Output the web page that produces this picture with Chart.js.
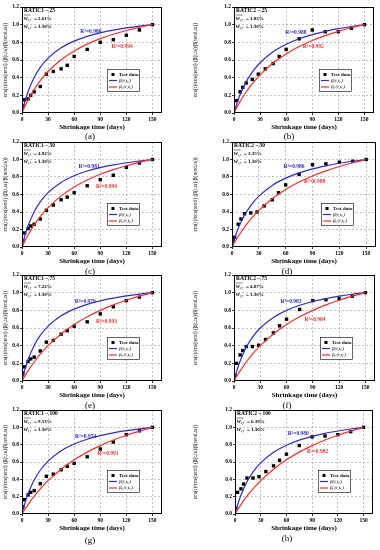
<!DOCTYPE html>
<html><head><meta charset="utf-8">
<script src="https://cdn.jsdelivr.net/npm/chart.js@4/dist/chart.umd.min.js"></script>
<style>
body{margin:0;background:#fff;width:380px;height:550px;position:relative;overflow:hidden}
canvas{position:absolute}
.lab{position:absolute;font:9px "Liberation Serif",serif;color:#000;transform:translate(-50%,-50%);white-space:nowrap}
</style></head><body>
<script>
// ---------------- data ----------------
const testTimes = [1,3,7,10,14,21,28,36,45,52,60,75,90,105,120,135,150];
const curveTimes = [0,3,7,14,21,30,45,60,75,90,105,120,135,150];
const xTickValues = [0,30,60,90,120,150];
const yTickValues = [0,0.2,0.4,0.6,0.8,1.0,1.2];
const panelLabels = ['(a)','(b)','(c)','(d)','(e)','(f)','(g)','(h)'];
const specimens = ['RATIC1 \u2013 25','RATIC2 \u2013 25','RATIC1 \u2013 50','RATIC2 \u2013 50','RATIC1 \u2013 75','RATIC2 \u2013 75','RATIC1 \u2013 100','RATIC2 \u2013 100'];
const wMean = ['2.61%','1.82%','4.92%','3.35%','7.22%','4.87%','9.53%','6.39%'];
const wRef = ['1.30%','1.30%','1.30%','1.30%','1.30%','1.30%','1.30%','1.30%'];
const r2Blue = ['0.980','0.988','0.981','0.986','0.979','0.983','0.974','0.980'];
const r2Red = ['0.994','0.992','0.994','0.988','0.993','0.984','0.991','0.982'];
const legendNames = ['Test data','\u03b2(t,t\u209b)','\u03b2\u209b(t,t\u209b)'];
const xTitle = 'Shrinkage time (days)';
const yTitle = '\u03b5cs(t)/\u03b5cs(tend) (\u03b2(t,ts)/\u03b2(tend,ts))';

const testA = [0.08,0.15,0.16,0.20,0.24,0.30,0.44,0.47,0.50,0.54,0.64,0.72,0.80,0.83,0.88,0.94,1.0];
const testB = [null,0.14,0.24,0.29,0.34,0.38,0.44,0.50,0.56,0.64,0.72,0.84,0.94,0.92,0.92,0.96,1.0];
const testC = [0.07,0.16,0.21,0.24,0.26,0.32,0.42,0.48,0.54,0.57,0.62,0.70,0.77,0.82,0.91,0.96,1.0];
const testD = [0.07,0.11,0.26,0.32,0.38,0.39,0.40,0.47,0.54,0.62,0.71,0.83,0.94,0.95,0.97,0.98,1.0];
const testE = [0.09,0.16,0.22,0.25,0.27,0.34,0.44,0.46,0.53,0.57,0.62,0.67,0.76,0.84,0.91,0.95,1.0];
const testF = [0.065,0.20,0.295,0.345,0.39,0.39,0.405,0.47,0.545,0.625,0.70,0.81,0.91,0.92,0.935,0.96,1.0];
const testG = [0.085,0.165,0.22,0.25,0.27,0.35,0.435,0.46,0.51,0.55,0.585,0.66,0.75,0.83,0.915,0.96,1.0];
const testH = [0.065,0.25,0.29,0.345,0.415,0.415,0.43,0.49,0.555,0.62,0.69,0.79,0.89,0.90,0.915,0.95,1.0];

const betaA = [0,0.118,0.243,0.403,0.516,0.621,0.738,0.814,0.868,0.908,0.939,0.963,0.983,1.0];
const betaB = [0,0.097,0.206,0.352,0.463,0.569,0.694,0.779,0.841,0.888,0.925,0.955,0.979,1.0];
const betaC = [0,0.118,0.243,0.403,0.516,0.621,0.738,0.814,0.868,0.908,0.939,0.963,0.983,1.0];
const betaD = [0,0.102,0.214,0.363,0.474,0.581,0.704,0.787,0.847,0.893,0.928,0.957,0.980,1.0];
const betaE = [0,0.118,0.243,0.403,0.516,0.621,0.738,0.814,0.868,0.908,0.939,0.963,0.983,1.0];
const betaF = [0,0.109,0.227,0.382,0.494,0.600,0.720,0.800,0.857,0.900,0.933,0.960,0.982,1.0];
const betaG = [0,0.113,0.235,0.392,0.505,0.610,0.729,0.807,0.862,0.904,0.936,0.962,0.983,1.0];
const betaH = [0,0.105,0.220,0.372,0.484,0.590,0.712,0.793,0.852,0.896,0.931,0.958,0.981,1.0];

const betaSA = [0,0.067,0.148,0.267,0.366,0.470,0.603,0.703,0.780,0.842,0.892,0.934,0.970,1.0];
const betaSB = [0,0.058,0.129,0.238,0.330,0.431,0.565,0.669,0.752,0.820,0.876,0.924,0.965,1.0];
const betaSC = [0,0.063,0.138,0.252,0.348,0.450,0.584,0.686,0.766,0.831,0.884,0.929,0.967,1.0];
const betaSD = [0,0.055,0.123,0.228,0.319,0.418,0.552,0.657,0.742,0.812,0.870,0.920,0.963,1.0];
const betaSE = [0,0.052,0.115,0.215,0.303,0.400,0.533,0.640,0.727,0.800,0.862,0.914,0.960,1.0];
const betaSF = [0,0.052,0.115,0.215,0.303,0.400,0.533,0.640,0.727,0.800,0.862,0.914,0.960,1.0];
const betaSG = [0,0.049,0.109,0.205,0.289,0.385,0.517,0.625,0.714,0.789,0.854,0.909,0.957,1.0];
const betaSH = [0,0.049,0.109,0.205,0.289,0.385,0.517,0.625,0.714,0.789,0.854,0.909,0.957,1.0];

const tests = [testA,testB,testC,testD,testE,testF,testG,testH];
const betas = [betaA,betaB,betaC,betaD,betaE,betaF,betaG,betaH];
const betaSs = [betaSA,betaSB,betaSC,betaSD,betaSE,betaSF,betaSG,betaSH];

// ---------------- layout (positions only) ----------------
const layouts = [
 {left:0,  top:0,   h:132, L:22, R:162, T:7, B:113, lab:[90,136]},
 {left:190,top:0,   h:132, L:44, R:184, T:7, B:113, lab:[289,136]},
 {left:0,  top:135, h:131, L:22, R:162, T:7, B:112, lab:[90,271]},
 {left:190,top:135, h:131, L:42, R:186, T:7, B:112, lab:[287,271]},
 {left:0,  top:270, h:130, L:22, R:162, T:5, B:111, lab:[90,405]},
 {left:190,top:270, h:130, L:44, R:185, T:5, B:111, lab:[287,405]},
 {left:0,  top:405, h:128, L:22, R:162, T:5, B:109, lab:[90,540]},
 {left:190,top:405, h:128, L:45, R:183, T:5, B:109, lab:[287,538]}
];
const r2BluePos = [[67,0.925],[59,0.906],[65,0.918],[57.5,0.922],[60.6,0.90],[53,0.898],[61,0.896],[61.4,0.923]];
const r2RedPos = [[103,0.747],[79,0.747],[85,0.686],[80.6,0.75],[85,0.674],[80.4,0.70],[86.7,0.70],[84,0.72]];

const SERIF = '"Liberation Serif","Times New Roman",serif';
Chart.defaults.font.family = SERIF;
const BLUE = '#2b2bd6', RED = '#ff2a2a';

function decorPlugin(i){
  return {
    id:'decor'+i,
    afterDatasetsDraw(chart){
      const {ctx, chartArea:a, scales:{x,y}} = chart;
      ctx.save();
      // frame
      ctx.strokeStyle = '#000'; ctx.lineWidth = 1;
      ctx.strokeRect(Math.round(a.left)+0.5, Math.round(a.top)+0.5, Math.round(a.right-a.left)-1, Math.round(a.bottom-a.top)-1);
      // top-left info
      ctx.fillStyle = '#000'; ctx.textBaseline = 'middle'; ctx.textAlign = 'left';
      const x0 = a.left + 2;
      ctx.font = 'bold 5.5px ' + SERIF;
      ctx.fillText(specimens[i], x0, a.top + 4);
      const lines = [wMean[i], wRef[i]];
      lines.forEach((v, k) => {
        const yy = a.top + 12 + k * 8;
        ctx.font = 'italic bold 5.5px ' + SERIF;
        ctx.fillText('w', x0, yy);
        let w = ctx.measureText('w').width;
        if (k === 0) { ctx.beginPath(); ctx.lineWidth = 0.5; ctx.moveTo(x0, yy - 4); ctx.lineTo(x0 + w + 3, yy - 4); ctx.stroke(); }
        ctx.font = 'italic 3.5px ' + SERIF;
        ctx.fillText('c,r', x0 + w, yy + 1.5);
        ctx.font = 'bold 5px ' + SERIF;
        ctx.fillText(' = ' + v, x0 + w + 5, yy);
      });
      // R2 labels
      ctx.font = 'bold 5.5px ' + SERIF;
      ctx.fillStyle = BLUE;
      ctx.fillText('R\u00b2=' + r2Blue[i], x.getPixelForValue(r2BluePos[i][0]), y.getPixelForValue(r2BluePos[i][1]));
      ctx.fillStyle = RED;
      ctx.fillText('R\u00b2=' + r2Red[i], x.getPixelForValue(r2RedPos[i][0]), y.getPixelForValue(r2RedPos[i][1]));
      // legend
      const bw = 32, bh = 22;
      const bx = a.right - 23 - bw, by = a.bottom - 22 - bh;
      ctx.fillStyle = '#fff'; ctx.fillRect(bx, by, bw, bh);
      ctx.strokeStyle = '#000'; ctx.lineWidth = 0.6; ctx.strokeRect(bx + 0.5, by + 0.5, bw, bh);
      ctx.fillStyle = '#000';
      ctx.fillRect(bx + 4.5, by + 4, 3, 3);
      ctx.lineWidth = 1.2;
      ctx.strokeStyle = BLUE; ctx.beginPath(); ctx.moveTo(bx + 2, by + 11.5); ctx.lineTo(bx + 10, by + 11.5); ctx.stroke();
      ctx.strokeStyle = RED; ctx.beginPath(); ctx.moveTo(bx + 2, by + 18); ctx.lineTo(bx + 10, by + 18); ctx.stroke();
      ctx.fillStyle = '#000';
      ctx.font = 'bold 5px ' + SERIF; ctx.fillText(legendNames[0], bx + 12, by + 5.5);
      ctx.font = 'italic 5px ' + SERIF;
      ctx.fillText(legendNames[1], bx + 12, by + 11.5);
      ctx.fillText(legendNames[2], bx + 12, by + 18);
      ctx.restore();
    }
  };
}

layouts.forEach((ly, i) => {
  const cv = document.createElement('canvas');
  cv.width = 190; cv.height = ly.h;
  cv.style.left = ly.left + 'px'; cv.style.top = ly.top + 'px';
  cv.style.width = '190px'; cv.style.height = ly.h + 'px';
  document.body.appendChild(cv);
  const lab = document.createElement('div');
  lab.className = 'lab'; lab.textContent = panelLabels[i];
  lab.style.left = ly.lab[0] + 'px'; lab.style.top = ly.lab[1] + 'px';
  document.body.appendChild(lab);

  const testPts = testTimes.map((t, k) => ({x: t, y: tests[i][k]})).filter(p => p.y !== null);
  const bPts = curveTimes.map((t, k) => ({x: t, y: betas[i][k]}));
  const sPts = curveTimes.map((t, k) => ({x: t, y: betaSs[i][k]}));
  const gridColor = (edgeVals) => (c) => (c.tick && edgeVals.includes(c.tick.value)) ? 'rgba(0,0,0,0)' : '#9a9a9a';

  new Chart(cv, {
    type: 'scatter',
    data: {datasets: [
      {label: legendNames[2], data: sPts, showLine: true, borderColor: RED, borderWidth: 1.2, pointRadius: 0, cubicInterpolationMode: 'monotone', fill: false},
      {label: legendNames[1], data: bPts, showLine: true, borderColor: BLUE, borderWidth: 1.2, pointRadius: 0, cubicInterpolationMode: 'monotone', fill: false},
      {label: legendNames[0], data: testPts, pointStyle: 'rect', pointRadius: 2.4, backgroundColor: '#000', borderColor: '#000', borderWidth: 0}
    ]},
    options: {
      responsive: false, animation: false, devicePixelRatio: 1,
      layout: {padding: {left: 0, top: ly.T, right: 190 - ly.R, bottom: 0}},
      plugins: {legend: {display: false}, tooltip: {enabled: false}},
      scales: {
        x: {
          type: 'linear', min: 0, max: 161,
          afterBuildTicks: s => { s.ticks = xTickValues.map(v => ({value: v})); },
          afterFit: s => { s.height = ly.h - ly.B; },
          ticks: {font: {size: 5.5, weight: 'bold'}, color: '#000', padding: 1, maxRotation: 0, autoSkip: false},
          grid: {color: gridColor([0]), lineWidth: 0.6, drawTicks: true, tickLength: 2, tickColor: '#000', tickWidth: 0.8, tickBorderDash: []},
          border: {display: false, dash: [2, 2]},
          title: {display: true, text: xTitle, font: {size: 7, weight: 'bold'}, color: '#000', padding: {top: 0, bottom: 1}}
        },
        y: {
          type: 'linear', min: 0, max: 1.2,
          afterBuildTicks: s => { s.ticks = yTickValues.map(v => ({value: v})); },
          afterFit: s => { s.width = ly.L; },
          ticks: {font: {size: 5.5, weight: 'bold'}, color: '#000', padding: 1, callback: v => Number(v).toFixed(1), autoSkip: false},
          grid: {color: gridColor([0, 1.2]), lineWidth: 0.6, drawTicks: true, tickLength: 2, tickColor: '#000', tickWidth: 0.8, tickBorderDash: []},
          border: {display: false, dash: [2, 2]},
          title: {display: true, text: yTitle, font: {size: 5.5}, color: '#000', padding: {top: 2.5, bottom: 0}}
        }
      }
    },
    plugins: [decorPlugin(i)]
  });
});
</script>
</body></html>
